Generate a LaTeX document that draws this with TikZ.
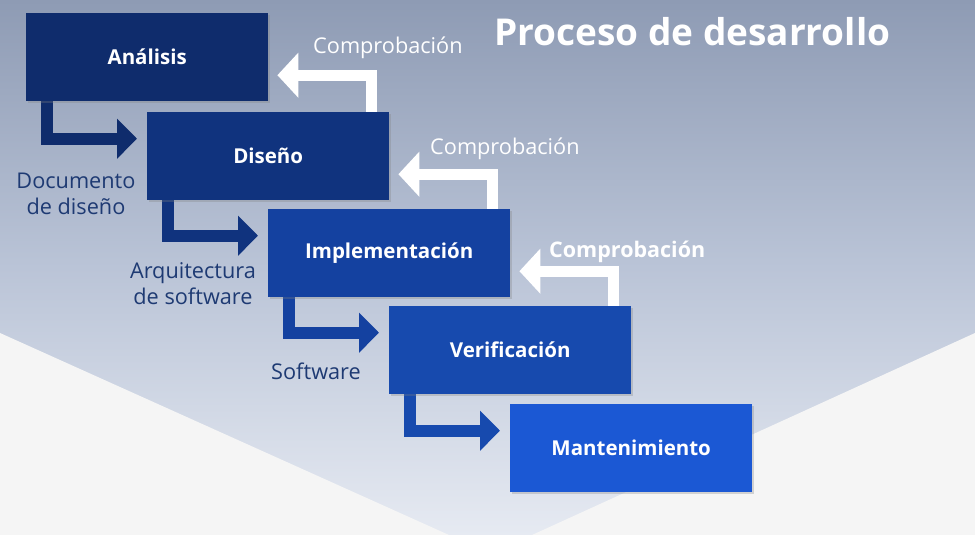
\documentclass[tikz,border=0pt]{standalone}
\usepackage{fontspec}
\setmainfont{Open Sans}
\usetikzlibrary{arrows.meta,shadows,calc}
\definecolor{cA}{HTML}{0F2C6C}
\definecolor{cB}{HTML}{10337E}
\definecolor{cC}{HTML}{1441A0}
\definecolor{cD}{HTML}{174AAE}
\definecolor{cE}{HTML}{1B58D4}
\definecolor{lbl}{HTML}{1E3A73}
\definecolor{bgtop}{HTML}{8E9BB4}
\definecolor{bgmid}{HTML}{BAC4D7}
\definecolor{bgbot}{HTML}{E6EAF2}
\definecolor{light}{HTML}{F5F5F5}
\tikzset{
  stagebox/.style={rectangle, anchor=north west, minimum width=242pt, minimum height=88pt,
    inner sep=0pt, text=white, font=\bfseries\fontsize{20.5}{24}\selectfont},
  shownbox/.style={stagebox, fill=#1,
    drop shadow={shadow xshift=2pt, shadow yshift=-2pt, opacity=0.3}},
  flowarrow/.style={line width=12pt, line join=miter, -{Triangle[length=20pt,width=39pt]}},
  checkarrow/.style={white, line width=11pt, line join=miter, -{Triangle[length=21pt,width=44pt]}},
  sidelabel/.style={text=lbl, align=center, font=\fontsize{21.7}{26}\selectfont, inner sep=0pt},
  checklabel/.style={text=white, anchor=west, font=\fontsize{21.7}{24}\selectfont, inner sep=0pt},
}
\begin{document}
\begin{tikzpicture}[x=1pt,y=-1pt]
\useasboundingbox (0,0) rectangle (975,535);
% background
\shade[top color=bgtop, bottom color=bgbot, middle color=bgmid] (0,0) rectangle (975,535);
\fill[light] (0,333) -- (449,535) -- (0,535) -- cycle;
\fill[light] (975,333) -- (532,535) -- (975,535) -- cycle;
% box positions
\coordinate (pA) at (26,13);
\coordinate (pB) at (147,112);
\coordinate (pC) at (268,209);
\coordinate (pD) at (389,306);
\coordinate (pE) at (510,404);
% invisible named boxes for anchoring
\node[stagebox] (e) at (pE) {};
\node[stagebox] (d) at (pD) {};
\node[stagebox] (c) at (pC) {};
\node[stagebox] (b) at (pB) {};
\node[stagebox] (a) at (pA) {};
% flow arrows
\draw[flowarrow, cA] ([xshift=21pt,yshift=1pt]a.south west) |- ([xshift=-10pt,yshift=17.5pt]b.west);
\draw[flowarrow, cB] ([xshift=21pt,yshift=1pt]b.south west) |- ([xshift=-10pt,yshift=17.5pt]c.west);
\draw[flowarrow, cC] ([xshift=21pt,yshift=1pt]c.south west) |- ([xshift=-10pt,yshift=17.5pt]d.west);
\draw[flowarrow, cD] ([xshift=21pt,yshift=1pt]d.south west) |- ([xshift=-10pt,yshift=17.5pt]e.west);
% check arrows
\draw[checkarrow] ([xshift=-18pt]b.north east) |- ([xshift=9pt,yshift=-18pt]a.east);
\draw[checkarrow] ([xshift=-18pt]c.north east) |- ([xshift=9pt,yshift=-18pt]b.east);
\draw[checkarrow] ([xshift=-18pt]d.north east) |- ([xshift=9pt,yshift=-18pt]c.east);
% visible boxes on top
\node[shownbox=cE] (E) at (pE) {Mantenimiento};
\node[shownbox=cD] (D) at (pD) {Verificación};
\node[shownbox=cC] (C) at (pC) {Implementación};
\node[shownbox=cB] (B) at (pB) {Diseño};
\node[shownbox=cA] (A) at (pA) {Análisis};
% labels
\node[checklabel] (k1) at (313,48) {Comprobación};
\node[checklabel] (k2) at (430,149) {Comprobación};
\node[checklabel, font=\bfseries\fontsize{21.5}{24}\selectfont] (k3) at (549,252) {Comprobación};
\node[sidelabel] (l1) at (76,194) {Documento\\de diseño};
\node[sidelabel] (l2) at (193,284) {Arquitectura\\de software};
\node[sidelabel] (l3) at (316,371) {Software};
\node[text=white, anchor=west, inner sep=0pt, font=\bfseries\fontsize{37}{42}\selectfont] (t) at (494,32) {Proceso de desarrollo};
\end{tikzpicture}
\end{document}
